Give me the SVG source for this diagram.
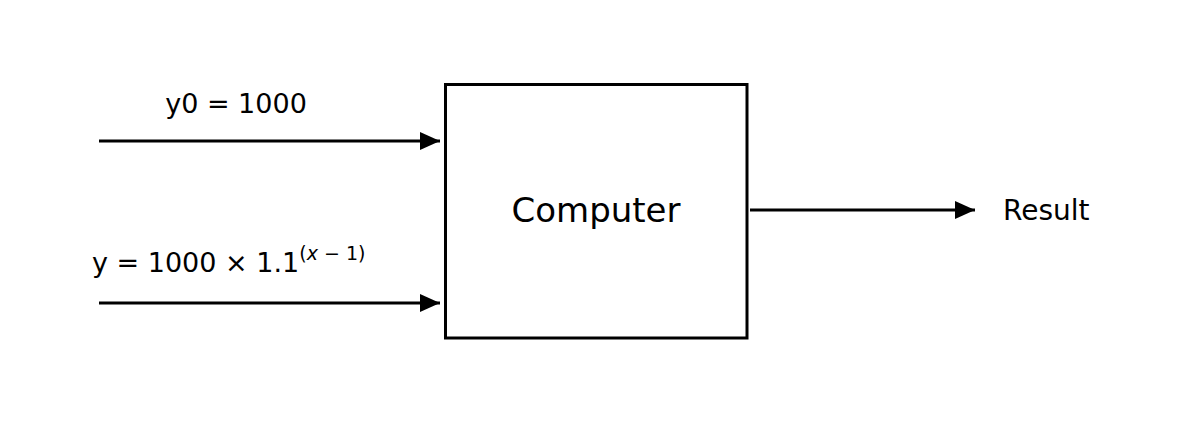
<svg xmlns="http://www.w3.org/2000/svg" width="1192" height="422" viewBox="0 0 1192 422">
<style>
text{font-family:"DejaVu Sans",sans-serif;fill:#000}
.c{stroke:#000;stroke-width:3;fill:none}
</style>
<defs><marker id="a" markerWidth="20" markerHeight="18" refX="20" refY="9" orient="auto" markerUnits="userSpaceOnUse"><path d="M0,0 L20,9 L0,18 z" fill="#000"/></marker></defs>
<rect width="1192" height="422" fill="#fff"/>
<g id="connectors">
<line class="c" x1="99" y1="141" x2="440" y2="141" marker-end="url(#a)"/>
<line class="c" x1="99" y1="303" x2="440" y2="303" marker-end="url(#a)"/>
<line class="c" x1="750" y1="210" x2="975" y2="210" marker-end="url(#a)"/>
</g>
<g id="computer"><rect x="445.5" y="84.5" width="301.5" height="253.5" fill="#fff" stroke="#000" stroke-width="3"/>
<text x="596" y="222" font-size="34" text-anchor="middle">Computer</text></g>
<g id="result"><text x="1003" y="220" font-size="28">Result</text></g>
<g id="y0"><text x="236" y="113" font-size="27" text-anchor="middle">y0 = 1000</text></g>
<g id="formula"><text x="92" y="272" font-size="27">y = 1000 × 1.1<tspan font-size="19" dy="-12">(<tspan font-style="italic">x</tspan> − 1)</tspan></text></g>
</svg>
